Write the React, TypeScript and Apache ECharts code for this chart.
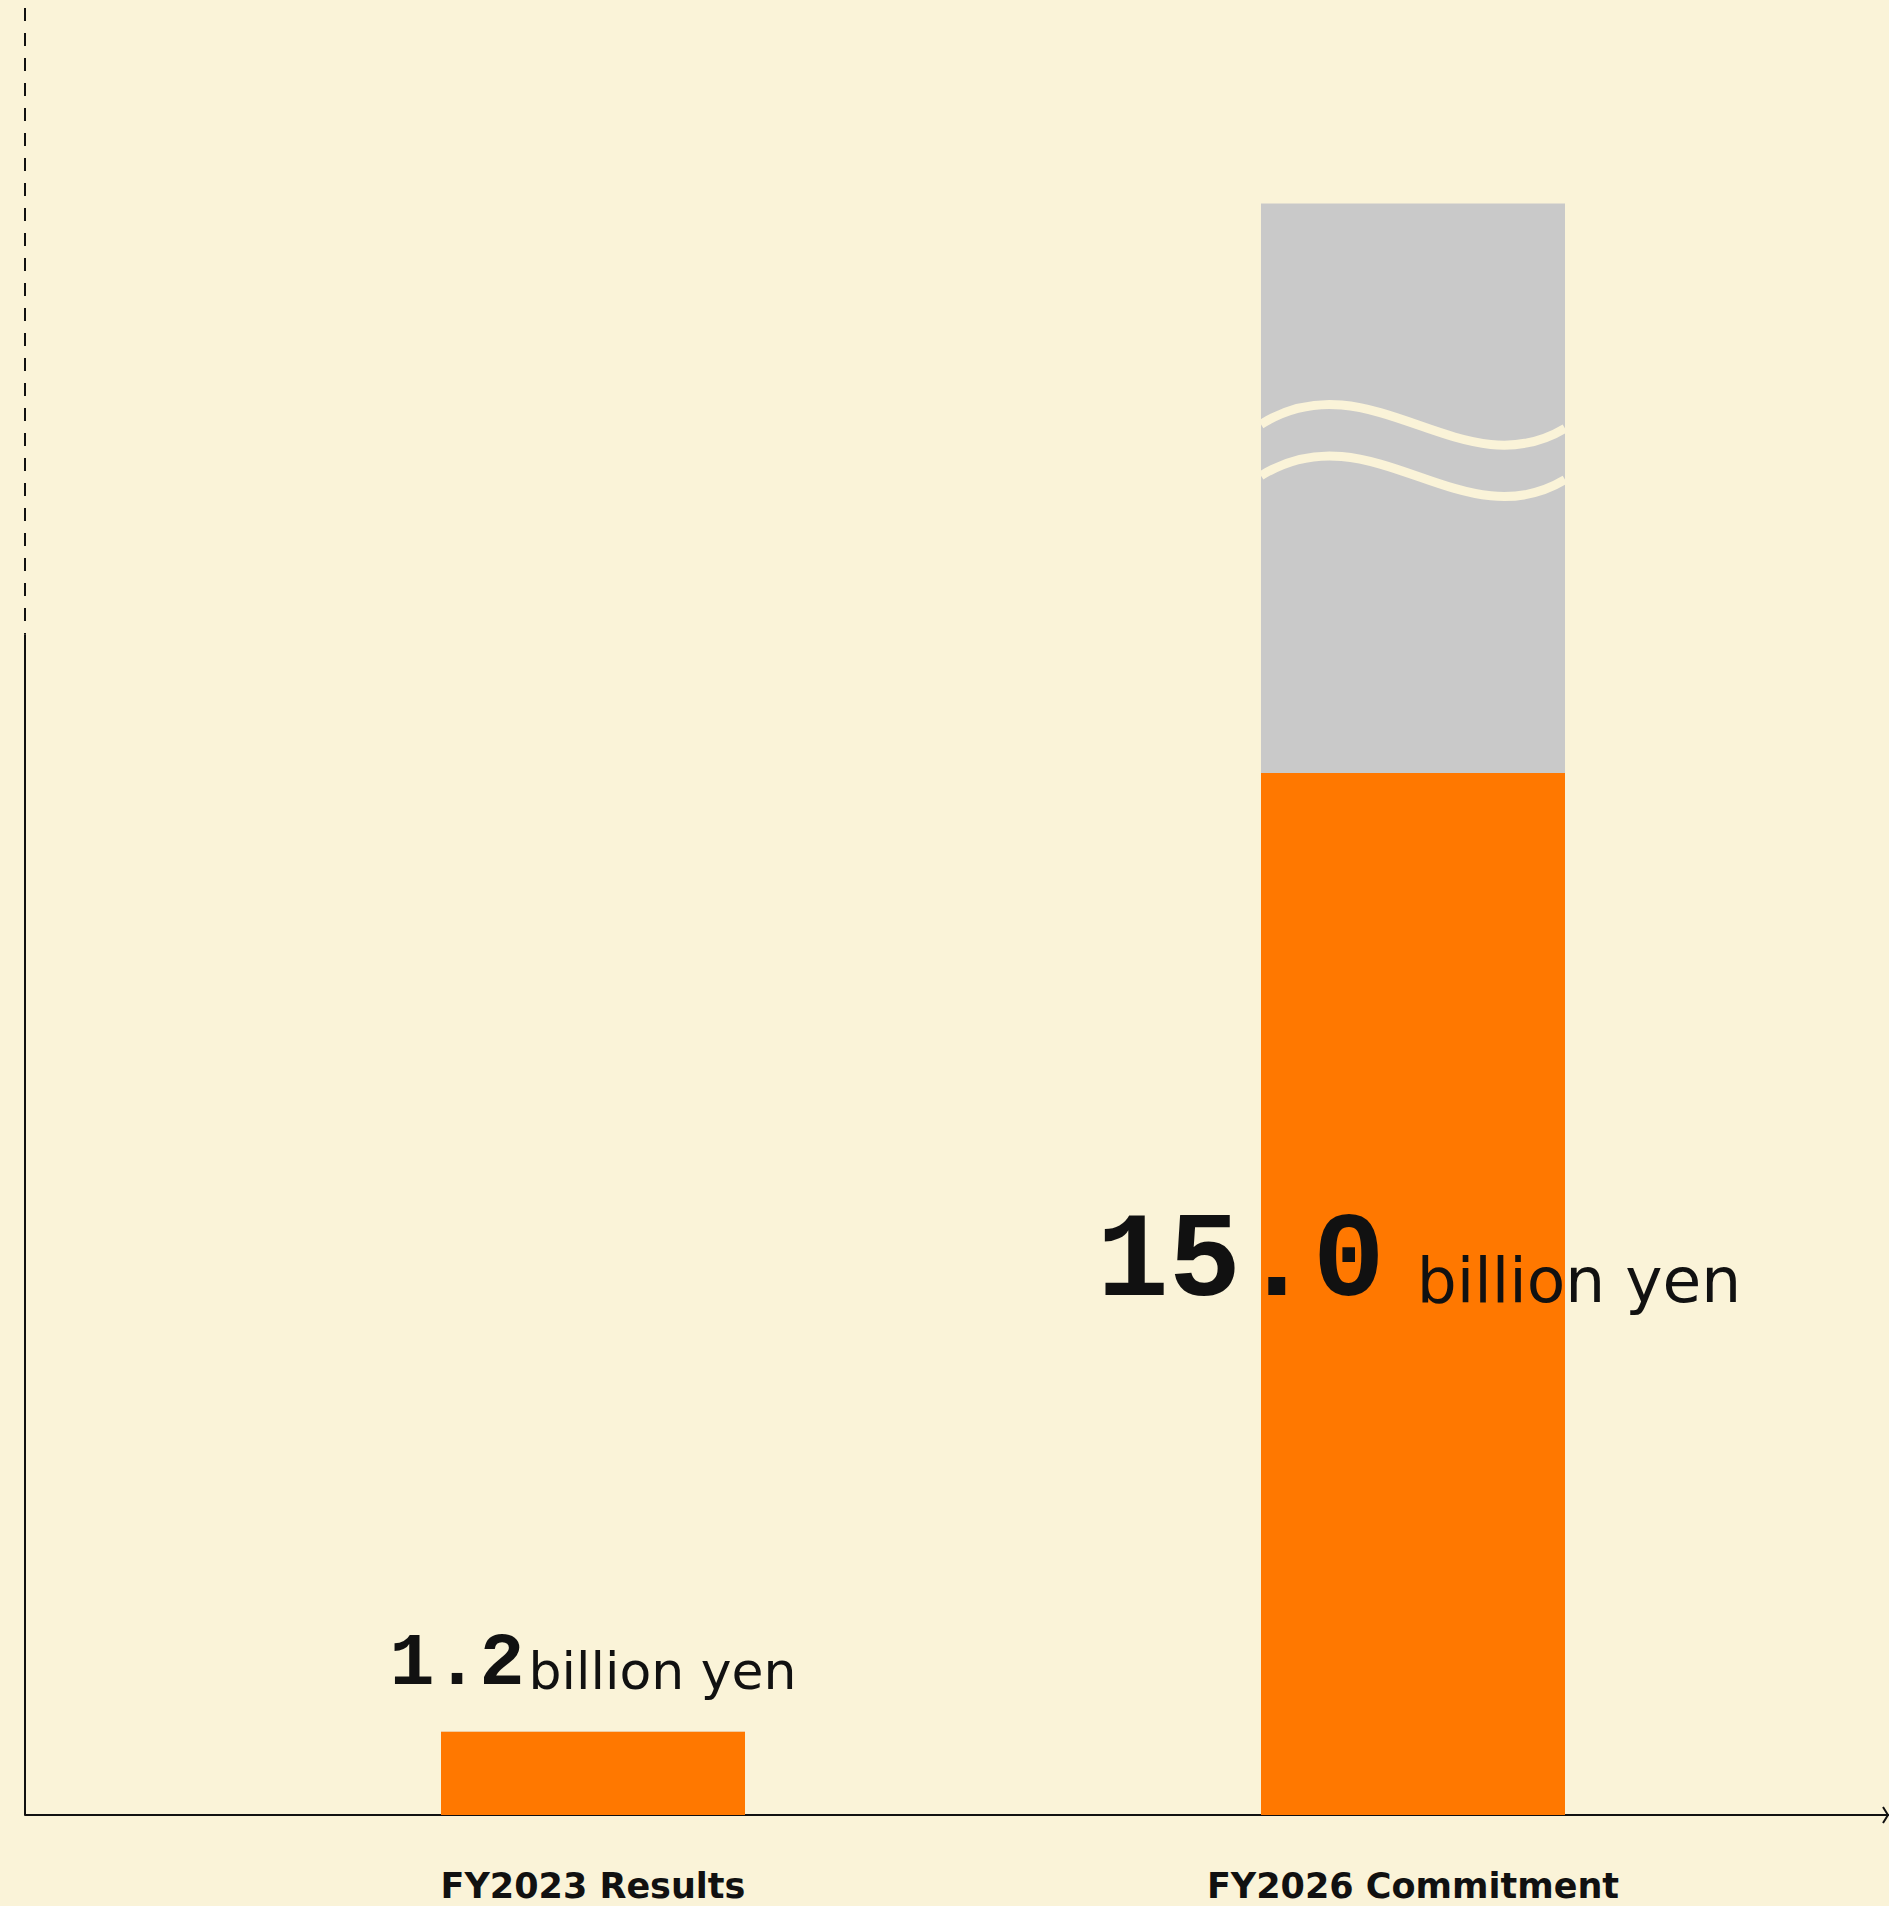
import React, { useEffect, useRef } from "react";
import * as echarts from "echarts";

// ---- data ----
const categories = ["FY2023 Results", "FY2026 Commitment"];
const categoryPositions = [1, 2];
const actualValues = [1.2, 15.0];
const upsideValues = [0, 8.2]; // grey extension drawn above the orange bar (axis break)
const valueNumbers = ["1.2", "15.0"];
const unitText = "billion yen";
const breakStart = 17; // axis becomes dashed above this value
const waveLevels = [20.05, 19.31]; // break marks across the grey bar

// ---- style ----
const BG = "#FAF3D8";
const ORANGE = "#FF7800";
const GRAY = "#C9C9C9";
const INK = "#111111";
const X_MIN = 0.3073;
const X_MAX = 2.5805;
const Y_MAX = 26.13;

export default function App() {
  const ref = useRef<HTMLDivElement>(null);

  useEffect(() => {
    const el = ref.current!;
    const chart = echarts.init(el, null, { renderer: "svg" });

    const labelStyles = [
      {
        show: true,
        position: "top",
        distance: 30,
        formatter: () => `{num|${valueNumbers[0]}}{unit|${unitText}}`,
        rich: {
          num: {
            fontFamily: "Liberation Mono",
            fontWeight: "bold",
            fontSize: 75,
            lineHeight: 75,
            verticalAlign: "bottom",
            color: INK,
          },
          unit: {
            fontFamily: "DejaVu Sans",
            fontSize: 52,
            lineHeight: 52,
            verticalAlign: "bottom",
            padding: [0, 0, 5, 4],
            color: INK,
          },
        },
      },
      {
        show: true,
        position: "inside",
        offset: [6, -31],
        formatter: () => `{num|${valueNumbers[1]}}{unit| ${unitText}}`,
        rich: {
          num: {
            fontFamily: "Liberation Mono",
            fontWeight: "bold",
            fontSize: 120,
            lineHeight: 120,
            verticalAlign: "bottom",
            color: INK,
          },
          unit: {
            fontFamily: "DejaVu Sans",
            fontSize: 63,
            lineHeight: 63,
            verticalAlign: "bottom",
            padding: [0, 0, 11, 12],
            color: INK,
          },
        },
      },
    ];

    const option: any = {
      animation: false,
      backgroundColor: BG,
      grid: { left: 25, right: 0, top: 0, bottom: 91, containLabel: false },
      xAxis: {
        type: "value",
        min: X_MIN,
        max: X_MAX,
        axisLine: { show: true, lineStyle: { color: INK, width: 2 } },
        axisTick: { show: false },
        splitLine: { show: false },
        axisLabel: {
          customValues: categoryPositions,
          formatter: (v: number) => {
            const i = categoryPositions.indexOf(Math.round(v));
            return i >= 0 ? categories[i] : "";
          },
          margin: 56,
          lineHeight: 30,
          color: INK,
          fontFamily: "DejaVu Sans",
          fontWeight: "bold",
          fontSize: 35,
        },
      },
      yAxis: {
        type: "value",
        min: 0,
        max: Y_MAX,
        axisLine: { show: false },
        axisTick: { show: false },
        axisLabel: { show: false },
        splitLine: { show: false },
      },
      series: [
        {
          // grey upside: drawn from 0 up to actual + upside, behind the orange bar
          type: "bar",
          barWidth: 304,
          barGap: "-100%",
          itemStyle: { color: GRAY },
          label: { show: false },
          z: 1,
          data: categoryPositions.map((x, i) => [x, actualValues[i] + upsideValues[i]]),
        },
        {
          type: "bar",
          barWidth: 304,
          barGap: "-100%",
          itemStyle: { color: ORANGE },
          z: 2,
          data: categoryPositions.map((x, i) => ({
            value: [x, actualValues[i]],
            label: labelStyles[i],
          })),
        },
      ],
    };

    chart.setOption(option);

    const toPx = (x: number, y: number) =>
      chart.convertToPixel({ gridIndex: 0 }, [x, y]) as number[];

    const [axisX, yBottom] = toPx(X_MIN, 0);
    const [, yBreak] = toPx(X_MIN, breakStart);
    const [, yTop] = toPx(X_MIN, Y_MAX);
    const [xEnd] = toPx(X_MAX, 0);

    const graphics: any[] = [
      {
        type: "line",
        shape: { x1: axisX, y1: yBottom, x2: axisX, y2: yBreak },
        style: { stroke: INK, lineWidth: 2 },
        z: 100,
      },
      {
        type: "line",
        shape: { x1: axisX, y1: yTop, x2: axisX, y2: yBreak },
        style: { stroke: INK, lineWidth: 2, lineDash: [13, 12], lineDashOffset: 17 },
        z: 100,
      },
      {
        type: "polyline",
        shape: {
          points: [
            [xEnd - 6, yBottom - 8],
            [xEnd - 1, yBottom],
            [xEnd - 6, yBottom + 8],
          ],
        },
        style: { stroke: INK, lineWidth: 2, fill: null },
        z: 100,
      },
    ];

    const barIdx = 1;
    waveLevels.forEach((lv) => {
      const [cx, cy] = toPx(categoryPositions[barIdx], lv);
      const L = cx - 152;
      const R = cx + 152;
      const w = R - L;
      graphics.push({
        type: "bezierCurve",
        shape: {
          x1: L,
          y1: cy + 2,
          cpx1: L + w * 0.36,
          cpy1: cy - 66,
          cpx2: L + w * 0.66,
          cpy2: cy + 68,
          x2: R,
          y2: cy + 6,
        },
        style: { stroke: BG, lineWidth: 9, fill: null },
        z: 50,
      });
    });

    chart.setOption({ graphic: graphics });

    return () => chart.dispose();
  }, []);

  return (
    <div
      ref={ref}
      style={{ position: "fixed", left: 0, top: 0, width: 1889, height: 1906 }}
    />
  );
}
